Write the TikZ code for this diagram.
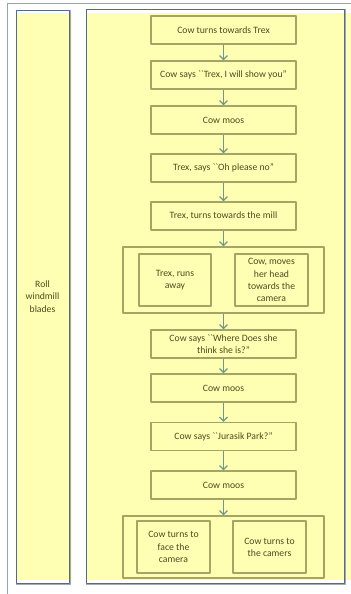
\documentclass[tikz,border=0pt]{standalone}
\usepackage{fontspec}
\setmainfont{Carlito}
\usetikzlibrary{arrows.meta}
\definecolor{lanefill}{HTML}{FFFFB3}
\definecolor{laneline}{HTML}{54698C}
\definecolor{laneshade}{HTML}{A4A8B4}
\definecolor{frameline}{HTML}{93A3BC}
\definecolor{boxline}{HTML}{A4A464}
\definecolor{boxtext}{HTML}{4B4B1E}
\definecolor{flowline}{HTML}{6E9A8C}
\begin{document}
\begin{tikzpicture}[>={Straight Barb[length=4bp,width=8bp]},line join=bevel,
  step box/.style={draw=boxline,line width=1.1bp,fill=lanefill,text=boxtext,
    font=\fontsize{9.7bp}{12.2bp}\selectfont,align=center,inner sep=0pt},
  lane/.style={draw=laneline,line width=0.8bp,text=boxtext,
    font=\fontsize{9.7bp}{12.2bp}\selectfont,align=center,inner sep=0pt},
  flow/.style={flowline,line width=1.3bp,->}]
\useasboundingbox (0bp,0bp) rectangle (351bp,594bp);
\fill[white] (0bp,0bp) rectangle (351bp,594bp);
%% frame and lanes
\draw [frameline,line width=0.8bp] (7bp,0bp) |- (351bp,591bp);
\fill [lanefill] (17bp,14bp) rectangle (72bp,581bp);
\fill [lanefill] (87bp,14bp) rectangle (351bp,581bp);
\node (lane_0) at (42.5bp,297.5bp) [lane,minimum width=53bp,minimum height=573bp] {Roll\\windmill\\blades};
\node (lane_1) at (215.0bp,298.0bp) [lane,minimum width=258bp,minimum height=574bp] {};
\draw [laneshade,line width=1.2bp] ([xshift=1.2bp]lane_0.north east) |- ([yshift=-1.2bp]lane_0.south west);
\draw [laneshade,line width=1.2bp] ([xshift=1.2bp]lane_1.north east) |- ([yshift=-1.2bp]lane_1.south west);
%% groups
\node (group_0) at (223.5bp,314.0bp) [step box,minimum width=201bp,minimum height=66bp] {};
\node (group_1) at (223.5bp,47.0bp) [step box,minimum width=201bp,minimum height=62bp] {};
%% steps
\node (node_0) at (223.5bp,564.0bp) [step box,minimum width=145bp,minimum height=28bp] {Cow turns towards Trex};
  \node (node_1) at (223.5bp,519.0bp) [step box,minimum width=145bp,minimum height=28bp] {Cow says \textasciigrave\textasciigrave Trex, I will show you''};
  \node (node_2) at (223.5bp,474.0bp) [step box,minimum width=145bp,minimum height=28bp] {Cow moos};
  \node (node_3) at (223.5bp,426.0bp) [step box,minimum width=145bp,minimum height=28bp] {Trex, says \textasciigrave\textasciigrave Oh please no''};
  \node (node_4) at (223.5bp,378.0bp) [step box,minimum width=145bp,minimum height=28bp] {Trex, turns towards the mill};
  \node (node_5) at (175.0bp,314.0bp) [step box,minimum width=72bp,minimum height=52bp] {Trex, runs\\away};
  \node (node_6) at (271.5bp,314.0bp) [step box,minimum width=73bp,minimum height=52bp] {Cow, moves\\her head\\towards the\\camera};
  \node (node_7) at (223.5bp,250.0bp) [step box,minimum width=145bp,minimum height=28bp] {Cow says \textasciigrave\textasciigrave Where Does she\\think she is?''};
  \node (node_8) at (223.5bp,206.0bp) [step box,minimum width=145bp,minimum height=28bp] {Cow moos};
  \node (node_9) at (223.5bp,157.5bp) [step box,minimum width=145bp,minimum height=28bp] {Cow says \textasciigrave\textasciigrave Jurasik Park?''};
  \node (node_10) at (223.5bp,109.0bp) [step box,minimum width=145bp,minimum height=28bp] {Cow moos};
  \node (node_11) at (173.5bp,47.0bp) [step box,minimum width=73bp,minimum height=52bp] {Cow turns to\\face the\\camera};
  \node (node_12) at (269.5bp,47.0bp) [step box,minimum width=73bp,minimum height=52bp] {Cow turns to\\the camers};
%
  \draw [flow] (node_0) -- (node_1);
  \draw [flow] (node_1) -- (node_2);
  \draw [flow] (node_2) -- (node_3);
  \draw [flow] (node_3) -- (node_4);
  \draw [flow] (node_4) -- (group_0);
  \draw [flow] (group_0) -- (node_7);
  \draw [flow] (node_7) -- (node_8);
  \draw [flow] (node_8) -- (node_9);
  \draw [flow] (node_9) -- (node_10);
  \draw [flow] (node_10) -- (group_1);
%
\end{tikzpicture}
\end{document}
